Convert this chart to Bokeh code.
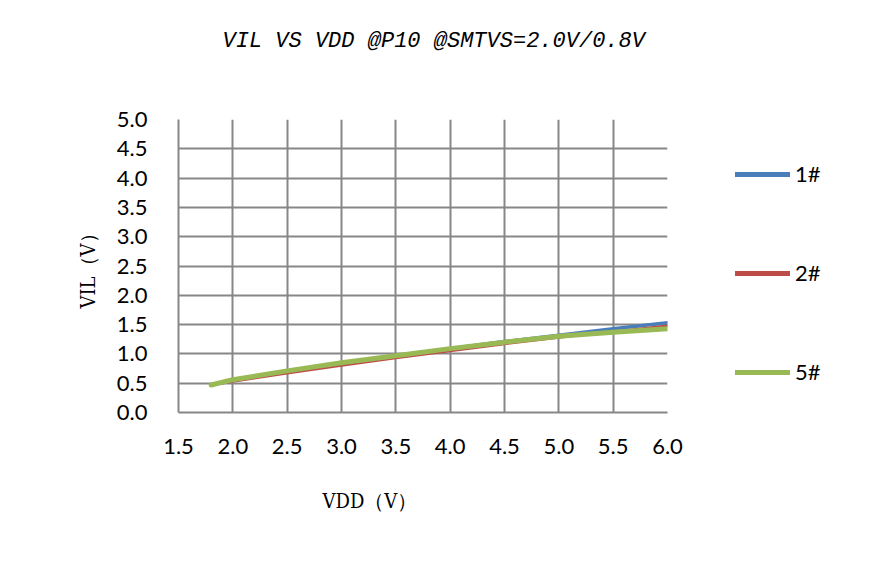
from bokeh.plotting import figure
from bokeh.models import Range1d, FixedTicker, Legend, LegendItem, Title, NumeralTickFormatter
from bokeh.embed import file_html
from bokeh.resources import INLINE

vdd = [1.8, 2.0, 2.5, 3.0, 3.5, 4.0, 4.5, 5.0, 5.5, 6.0]
vil_1 = [0.47, 0.55, 0.70, 0.84, 0.97, 1.09, 1.21, 1.32, 1.43, 1.53]
vil_2 = [0.47, 0.53, 0.67, 0.80, 0.93, 1.05, 1.17, 1.28, 1.38, 1.48]
vil_5 = [0.47, 0.56, 0.71, 0.85, 0.97, 1.09, 1.20, 1.30, 1.37, 1.43]
series_names = ["1#", "2#", "5#"]
x_ticks = [1.5, 2.0, 2.5, 3.0, 3.5, 4.0, 4.5, 5.0, 5.5, 6.0]
y_ticks = [0.0, 0.5, 1.0, 1.5, 2.0, 2.5, 3.0, 3.5, 4.0, 4.5, 5.0]
title_text = "VIL VS VDD @P10 @SMTVS=2.0V/0.8V"
x_label = "VDD（V）"
y_label = "VIL（V）"

p = figure(frame_width=489, frame_height=293, output_backend="svg", toolbar_location=None,
           x_range=Range1d(1.5, 6.0), y_range=Range1d(0, 5),
           min_border_left=178, min_border_right=193,
           min_border_top=119, min_border_bottom=134)
p.outline_line_color = None
p.background_fill_color = "white"
p.border_fill_color = "white"

# chart title (outermost "above" panel)
p.title.text = title_text
p.title.align = "left"
p.title.offset = 44
p.title.standoff = 0
p.title.text_font = "Liberation Mono"
p.title.text_font_style = "italic"
p.title.text_font_size = "22px"
p.title.text_color = "black"

# spacer between frame and title (inner "above" panel)
p.add_layout(Title(text=" ", text_font_size="1px", standoff=63), "above")

grid_col = "#878787"
for ax in (p.xaxis[0], p.yaxis[0]):
    ax.major_tick_line_color = None
    ax.minor_tick_line_color = None
    ax.axis_line_color = grid_col
    ax.axis_line_width = 2
    ax.major_label_text_font = "Lato"
    ax.major_label_text_font_size = "22px"
    ax.major_label_text_color = "black"
    ax.formatter = NumeralTickFormatter(format="0.0")
p.xaxis[0].ticker = FixedTicker(ticks=x_ticks)
p.yaxis[0].ticker = FixedTicker(ticks=y_ticks)
p.xaxis[0].major_label_standoff = 20
p.yaxis[0].major_label_standoff = 25

p.xgrid[0].ticker = FixedTicker(ticks=x_ticks)
p.ygrid[0].ticker = FixedTicker(ticks=y_ticks)
for g in (p.xgrid[0], p.ygrid[0]):
    g.grid_line_color = grid_col
    g.grid_line_width = 2

r1 = p.line(vdd, vil_1, line_color="#4A7EBB", line_width=3.5, line_cap="round")
r2 = p.line(vdd, vil_2, line_color="#BE4B48", line_width=2.5, line_cap="round")
r5 = p.line(vdd, vil_5, line_color="#98B954", line_width=5, line_cap="round")

nan = float("nan")
l1 = p.line([nan], [nan], line_color="#4A7EBB", line_width=5, line_cap="round")
l2 = p.line([nan], [nan], line_color="#BE4B48", line_width=5, line_cap="round")
l5 = p.line([nan], [nan], line_color="#98B954", line_width=5, line_cap="round")

legend = Legend(items=[LegendItem(label=series_names[0], renderers=[l1]),
                       LegendItem(label=series_names[1], renderers=[l2]),
                       LegendItem(label=series_names[2], renderers=[l5])],
                location=(68, 27), padding=0, margin=0, spacing=72,
                glyph_width=55, glyph_height=26, label_height=26,
                label_standoff=5, border_line_color=None,
                background_fill_alpha=0,
                label_text_font="Lato", label_text_font_size="22px",
                label_text_color="black", label_text_baseline="middle")
p.add_layout(legend, "right")

p.add_layout(Title(text=x_label, align="left", offset=144, standoff=60,
                   text_font="DejaVu Serif Condensed", text_font_size="20px",
                   text_font_style="normal", text_color="black"), "below")
p.add_layout(Title(text=y_label, align="center", standoff=27,
                   text_font="DejaVu Serif Condensed", text_font_size="20px",
                   text_font_style="normal", text_color="black"), "left")

open("out.html", "w").write(file_html(p, INLINE))
